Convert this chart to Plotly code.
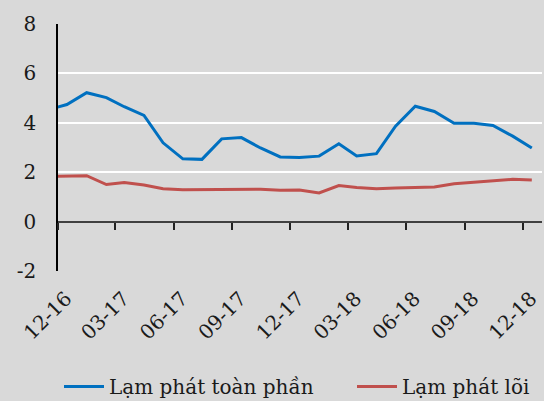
import plotly.graph_objects as go

months = ["2016-11-15", "2016-12-15",
          "2017-01-15", "2017-02-15", "2017-03-15", "2017-04-15", "2017-05-15", "2017-06-15",
          "2017-07-15", "2017-08-15", "2017-09-15", "2017-10-15", "2017-11-15", "2017-12-15",
          "2018-01-15", "2018-02-15", "2018-03-15", "2018-04-15", "2018-05-15", "2018-06-15",
          "2018-07-15", "2018-08-15", "2018-09-15", "2018-10-15", "2018-11-15", "2018-12-15"]
headline = [4.52, 4.74, 5.22, 5.02, 4.65, 4.30, 3.19, 2.54, 2.52, 3.35, 3.40, 2.98, 2.62, 2.60,
            2.65, 3.15, 2.66, 2.75, 3.86, 4.67, 4.46, 3.98, 3.98, 3.89, 3.46, 2.98]
core = [1.83, 1.85, 1.86, 1.50, 1.58, 1.48, 1.33, 1.29, 1.29, 1.30, 1.31, 1.31, 1.27, 1.28,
        1.16, 1.46, 1.38, 1.33, 1.36, 1.37, 1.40, 1.53, 1.59, 1.64, 1.71, 1.68]
tick_dates = ["2016-12-01", "2017-03-01", "2017-06-01", "2017-09-01", "2017-12-01",
              "2018-03-01", "2018-06-01", "2018-09-01", "2018-12-01"]
tick_labels = ["12-16", "03-17", "06-17", "09-17", "12-17", "03-18", "06-18", "09-18", "12-18"]
y_ticks = [-2, 0, 2, 4, 6, 8]
y_labels = ["-2", "0", "2", "4", "6", "8"]
names = ["Lạm phát toàn phần", "Lạm phát lõi"]
x_range = ["2016-12-01", "2018-12-31"]

FONT = "DejaVu Serif"
BG = "#D9D9D9"

fig = go.Figure()
fig.add_trace(go.Scatter(x=months, y=headline, name=names[0], mode="lines",
                         line=dict(color="#0070C0", width=3), legend="legend"))
fig.add_trace(go.Scatter(x=months, y=core, name=names[1], mode="lines",
                         line=dict(color="#C0504D", width=3), legend="legend2"))
# invisible trace to carry the tick axis at y = 0
fig.add_trace(go.Scatter(x=months, y=core, xaxis="x2", mode="lines",
                         line=dict(width=0, color="rgba(0,0,0,0)"),
                         showlegend=False, hoverinfo="skip"))

leg_common = dict(orientation="h", yref="container", y=0.036, yanchor="middle", xref="container",
                  xanchor="left", font=dict(family=FONT, size=20), bgcolor="rgba(0,0,0,0)",
                  itemwidth=40)

fig.update_layout(
    width=544, height=401,
    margin=dict(l=58, r=2, t=24, b=130, autoexpand=False),
    paper_bgcolor=BG, plot_bgcolor=BG,
    font=dict(family=FONT, size=20, color="#1a1a1a"),
    showlegend=True,
    legend=dict(x=59 / 544, **leg_common),
    legend2=dict(x=352 / 544, **leg_common),
    xaxis=dict(type="date", range=x_range, tickvals=tick_dates, ticktext=tick_labels,
               tickangle=-45, showgrid=False, zeroline=False, showline=False, automargin=False,
               ticks="", ticklabelstandoff=11, ticklabelshift=8,
               tickfont=dict(family=FONT, size=20)),
    xaxis2=dict(type="date", range=x_range, overlaying="x", anchor="free", position=0.2,
                tickvals=tick_dates, showticklabels=False, showgrid=False, zeroline=False,
                showline=True, linecolor="#404040", linewidth=2, automargin=False,
                ticks="outside", ticklen=7, tickwidth=1.5, tickcolor="#222222"),
    yaxis=dict(range=[-2, 8], tickvals=y_ticks, ticktext=y_labels, showgrid=True,
               gridcolor="white", gridwidth=1.5, automargin=False,
               zeroline=False, showline=True, linecolor="black", linewidth=1.5,
               ticks="", ticklabelstandoff=16, tickfont=dict(family=FONT, size=20)),
)

fig.write_html("out.html", config={"displayModeBar": False},
               post_script="document.body.style.margin='0';"
                           "document.body.style.background='#D9D9D9';")
